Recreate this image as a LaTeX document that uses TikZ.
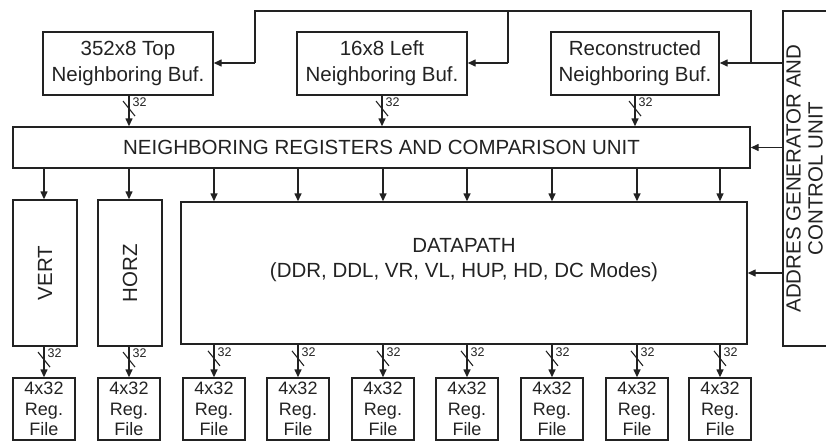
\documentclass[tikz,border=0pt]{standalone}
\usepackage{fontspec}
\setmainfont{Liberation Sans}
\usetikzlibrary{arrows.meta}
\definecolor{ink}{HTML}{222222}
\newcommand{\mybus}[3]{%
  \draw[arr] (#1) -- coordinate[pos=#3] (m) (#2);
  \draw[slashln] ([shift={(-6,-7.5)}]m) -- ([shift={(6,7.5)}]m);
  \node[buslbl] at ([shift={(3.5,-6.5)}]m) {32};
}
\begin{document}
\begin{tikzpicture}[x=1pt,y=-1pt,
  box/.style={draw=ink, line width=1.4pt, inner sep=0pt, text=ink,
    font=\fontsize{20.5}{26}\selectfont, align=center},
  regbox/.style={box, minimum width=62, minimum height=62,
    font=\fontsize{18}{20.5}\selectfont},
  txt/.style={inner sep=0pt, text=ink, font=\fontsize{20.5}{22}\selectfont, align=center},
  arr/.style={draw=ink, line width=1.4pt, -{Triangle[length=8pt,width=7pt]}},
  wire/.style={draw=ink, line width=1.4pt},
  slashln/.style={draw=ink, line width=1.1pt},
  buslbl/.style={anchor=west, inner sep=0pt, text=ink, font=\fontsize{12.5}{12.5}\selectfont}
]
\useasboundingbox (0,0) rectangle (826,442);

% top buffers
\node[box, minimum width=170, minimum height=63] (tb1) at (128,63.5) {352x8 Top\\Neighboring Buf.};
\node[box, minimum width=170, minimum height=63] (tb2) at (382,63.5) {16x8 Left\\Neighboring Buf.};
\node[box, minimum width=168, minimum height=63] (tb3) at (635,63.5) {Reconstructed\\Neighboring Buf.};

% neighboring registers
\node[box, minimum width=737, minimum height=41] (nrc) at (381.5,147.5) {NEIGHBORING REGISTERS AND COMPARISON UNIT};

% address generator
\node[box, minimum width=48, minimum height=335] (addr) at (807,178.5) {};
\node[txt, rotate=90] (addrT) at (804.5,178.5) {ADDRES GENERATOR AND\\CONTROL UNIT};

% VERT, HORZ, DATAPATH
\node[box, minimum width=64, minimum height=146] (vert) at (45,273) {};
\node[txt, rotate=90] (vertT) at (vert.center) {VERT};
\node[box, minimum width=64, minimum height=146] (horz) at (130,273) {};
\node[txt, rotate=90] (horzT) at (horz.center) {HORZ};
\node[box, minimum width=566, minimum height=142] (dp) at (464,273) {};
\node[txt, font=\fontsize{20.5}{25}\selectfont] (dpT) at (464,260.5) {DATAPATH\\(DDR, DDL, VR, VL, HUP, HD, DC Modes)};

% register files
\foreach \i/\x in {1/44, 2/129, 3/214, 4/298, 5/383, 6/467, 7/552, 8/637, 9/720}{
  \node[regbox] (r\i) at (\x,409) {4x32\\Reg.\\File};
}

% top control wiring
\coordinate (ya) at (0,63);
\coordinate (ytop) at (0,11);
\coordinate (j1) at (255,63);
\coordinate (j2) at (508,63);
\coordinate (j3) at (751,63);
\draw[arr] (addr.west |- ya) -- (tb3.east |- ya);
\draw[wire] (j3) -- (j3 |- ytop) -- (j1 |- ytop) -- (j1);
\draw[arr] (j1) -- (tb1.east |- ya);
\draw[wire] (j2 |- ytop) -- (j2);
\draw[arr] (j2) -- (tb2.east |- ya);

% control to NRC and datapath
\draw[arr] (addr.west |- nrc.east) -- (nrc.east);
\draw[arr] (addr.west |- dp.east) -- (dp.east);

% top buses
\mybus{tb1.south -| r2}{nrc.north -| r2}{0.42}
\mybus{tb2.south}{nrc.north -| tb2.south}{0.42}
\mybus{tb3.south}{nrc.north -| tb3.south}{0.42}

% NRC to units
\draw[arr] (nrc.south -| r1) -- (vert.north -| r1);
\draw[arr] (nrc.south -| r2) -- (horz.north -| r2);
\foreach \i in {3,...,9}{
  \draw[arr] (nrc.south -| r\i) -- (dp.north -| r\i);
}

% bottom buses
\mybus{vert.south -| r1}{r1.north}{0.42}
\mybus{horz.south -| r2}{r2.north}{0.42}
\foreach \i in {3,...,9}{
  \mybus{dp.south -| r\i}{r\i.north}{0.42}
}
\end{tikzpicture}
\end{document}
